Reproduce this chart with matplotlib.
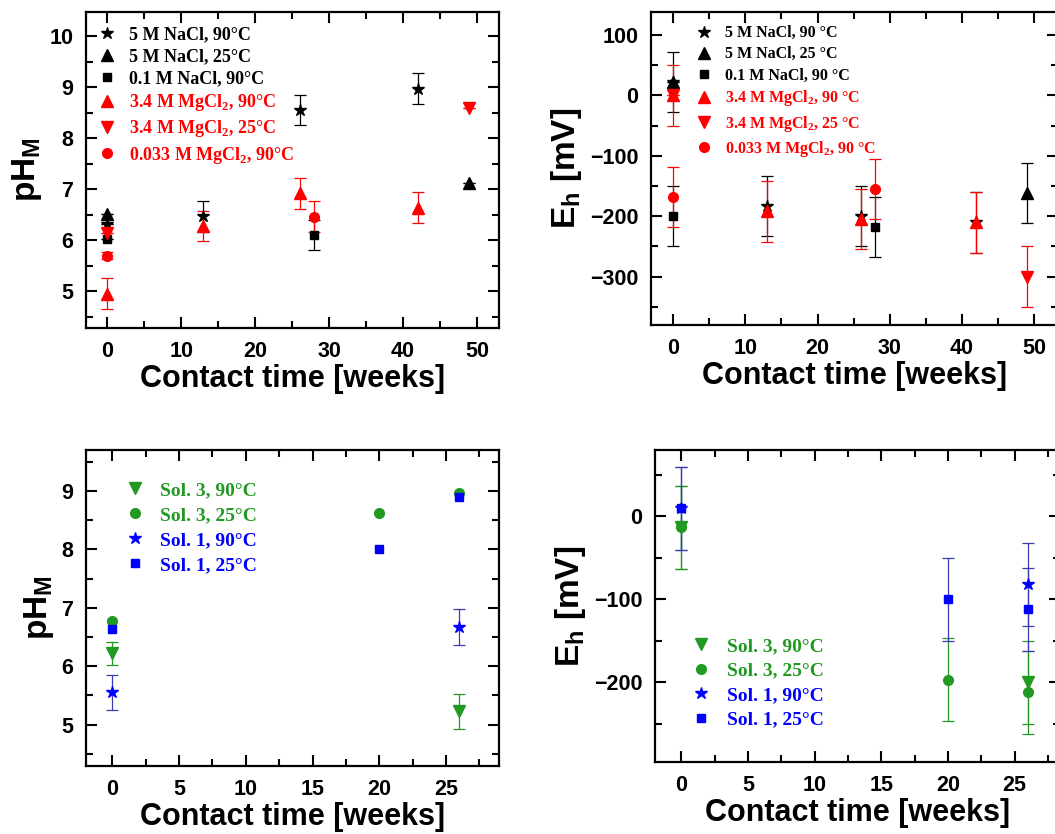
import numpy as np
import matplotlib.pyplot as plt
from matplotlib.lines import Line2D
from matplotlib.ticker import MultipleLocator

plt.rcParams['font.family'] = ['Liberation Sans', 'DejaVu Sans']
plt.rcParams['font.weight'] = 'bold'
plt.rcParams['axes.labelweight'] = 'bold'
plt.rcParams['mathtext.fontset'] = 'custom'
plt.rcParams['mathtext.rm'] = 'Liberation Serif:bold'
plt.rcParams['mathtext.sf'] = 'Liberation Sans:bold'
plt.rcParams['mathtext.bf'] = 'Liberation Serif:bold'

RED = '#ff0000'
GREEN = '#229a22'
BLUE = '#0000ff'
BLUE_ERR = '#3a3ab4'

# ---- top row: NaCl / MgCl2 solutions ----
labels_top_ph = ['5 M NaCl, 90°C', '5 M NaCl, 25°C', '0.1 M NaCl, 90°C',
                 r'3.4 M MgCl$_\mathrm{2}$, 90°C', r'3.4 M MgCl$_\mathrm{2}$, 25°C',
                 r'0.033 M MgCl$_\mathrm{2}$, 90°C']
labels_top_eh = ['5 M NaCl, 90 °C', '5 M NaCl, 25 °C', '0.1 M NaCl, 90 °C',
                 r'3.4 M MgCl$_\mathrm{2}$, 90 °C', r'3.4 M MgCl$_\mathrm{2}$, 25 °C',
                 r'0.033 M MgCl$_\mathrm{2}$, 90 °C']

nacl5_90_t = [0, 13, 26, 42]
nacl5_90_ph = [6.32, 6.47, 8.55, 8.97]
nacl5_90_ph_err = [0, 0.3, 0.3, 0.3]
nacl5_25_t = [0, 49]
nacl5_25_ph = [6.52, 7.12]
nacl5_25_ph_err = [0, 0]
nacl01_90_t = [0, 28]
nacl01_90_ph = [6.02, 6.1]
nacl01_90_ph_err = [0, 0.3]
mg34_90_t = [0, 13, 26, 42]
mg34_90_ph = [4.95, 6.28, 6.92, 6.64]
mg34_90_ph_err = [0.3, 0.3, 0.3, 0.3]
mg34_25_t = [0, 49]
mg34_25_ph = [6.15, 8.58]
mg34_25_ph_err = [0, 0]
mg0033_90_t = [0, 28]
mg0033_90_ph = [5.7, 6.46]
mg0033_90_ph_err = [0.07, 0.3]

nacl5_90_eh = [22, -183, -200, -210]
nacl5_90_eh_err = [50, 50, 50, 50]
nacl5_25_eh = [22, -162]
nacl5_25_eh_err = [0, 50]
nacl01_90_eh = [-200, -218]
nacl01_90_eh_err = [50, 50]
mg34_90_eh = [0, -192, -205, -210]
mg34_90_eh_err = [50, 50, 50, 50]
mg34_25_eh = [0, -300]
mg34_25_eh_err = [0, 50]
mg0033_90_eh = [-168, -155]
mg0033_90_eh_err = [50, 50]

# ---- bottom row: Sol. 1 / Sol. 3 ----
labels_bot = ['Sol. 3, 90°C', 'Sol. 3, 25°C', 'Sol. 1, 90°C', 'Sol. 1, 25°C']
sol3_90_t = [0, 26]
sol3_90_ph = [6.22, 5.23]
sol3_90_ph_err = [0.2, 0.3]
sol3_25_t = [0, 20, 26]
sol3_25_ph = [6.78, 8.63, 8.97]
sol1_90_t = [0, 26]
sol1_90_ph = [5.55, 6.67]
sol1_90_ph_err = [0.3, 0.3]
sol1_25_t = [0, 20, 26]
sol1_25_ph = [6.63, 8.01, 8.9]

sol3_90_eh = [-13, -200]
sol3_25_eh = [-13, -197, -212]
sol1_90_eh = [10, -82]
sol1_25_eh = [10, -100, -112]
eh_err_bot = 50

fig = plt.figure(figsize=(10.55, 8.34), dpi=100)
ax1 = fig.add_axes([0.0815, 0.6067, 0.3915, 0.3789])
ax2 = fig.add_axes([0.617, 0.6103, 0.3858, 0.3753])
ax3 = fig.add_axes([0.0815, 0.0815, 0.3915, 0.3789])
ax4 = fig.add_axes([0.6209, 0.0863, 0.3839, 0.3741])


def series(ax, t, y, err, marker, color, ecolor, ms):
    ax.errorbar(t, y, yerr=err, fmt=marker, color=color, ecolor=ecolor,
                ms=ms, elinewidth=0.9, capsize=4, capthick=0.9, zorder=3)


def style(ax, xmaj, xmin, ymaj, ymin):
    ax.xaxis.set_major_locator(MultipleLocator(xmaj))
    ax.xaxis.set_minor_locator(MultipleLocator(xmin))
    ax.yaxis.set_major_locator(MultipleLocator(ymaj))
    ax.yaxis.set_minor_locator(MultipleLocator(ymin))
    ax.tick_params(which='both', direction='in', top=True, right=True, width=1.5)
    ax.tick_params(which='major', length=8, labelsize=15.5, pad=9)
    ax.tick_params(which='minor', length=5)
    for s in ax.spines.values():
        s.set_linewidth(1.6)
    ax.set_xlabel('Contact time [weeks]', fontsize=22, fontweight='bold', labelpad=2)


def legend(ax, markers, colors, labels, anchor, fs, spacing, pad):
    handles = [Line2D([], [], ls='none', marker=m, color=c, ms=ms)
               for m, c, ms in markers]
    leg = ax.legend(handles, labels, loc='upper left', bbox_to_anchor=anchor,
                    frameon=False, borderaxespad=0, borderpad=0, handlelength=1,
                    handletextpad=pad, labelspacing=spacing,
                    prop={'family': 'Liberation Serif', 'weight': 'bold', 'size': fs})
    for txt, c in zip(leg.get_texts(), colors):
        txt.set_color(c)


top_markers = [('*', 'k', 9), ('^', 'k', 8), ('s', 'k', 6),
               ('^', RED, 8), ('v', RED, 8), ('o', RED, 7)]
top_colors = ['k', 'k', 'k', RED, RED, RED]

# panel 1: pH, top
series(ax1, nacl5_90_t, nacl5_90_ph, nacl5_90_ph_err, '*', 'k', 'k', 9)
series(ax1, nacl5_25_t, nacl5_25_ph, nacl5_25_ph_err, '^', 'k', 'k', 8)
series(ax1, nacl01_90_t, nacl01_90_ph, nacl01_90_ph_err, 's', 'k', 'k', 6)
series(ax1, mg34_90_t, mg34_90_ph, mg34_90_ph_err, '^', RED, RED, 8)
series(ax1, mg34_25_t, mg34_25_ph, mg34_25_ph_err, 'v', RED, RED, 8)
series(ax1, mg0033_90_t, mg0033_90_ph, mg0033_90_ph_err, 'o', RED, RED, 7)
ax1.set_xlim(-2.9, 53)
ax1.set_ylim(4.28, 10.47)
style(ax1, 10, 5, 1, 0.5)
ax1.set_ylabel(r'pH$_\mathsf{M}$', fontsize=24, fontweight='bold', labelpad=4)
legend(ax1, top_markers, top_colors, labels_top_ph, (0.028, 0.955), 13, 0.28, 0.75)

# panel 2: Eh, top
series(ax2, nacl5_90_t, nacl5_90_eh, nacl5_90_eh_err, '*', 'k', 'k', 9)
series(ax2, nacl5_25_t, nacl5_25_eh, nacl5_25_eh_err, '^', 'k', 'k', 8)
series(ax2, nacl01_90_t, nacl01_90_eh, nacl01_90_eh_err, 's', 'k', 'k', 6)
series(ax2, mg34_90_t, mg34_90_eh, mg34_90_eh_err, '^', RED, RED, 8)
series(ax2, mg34_25_t, mg34_25_eh, mg34_25_eh_err, 'v', RED, RED, 8)
series(ax2, mg0033_90_t, mg0033_90_eh, mg0033_90_eh_err, 'o', RED, RED, 7)
ax2.set_xlim(-3.07, 53.3)
ax2.set_ylim(-380, 138)
style(ax2, 10, 5, 100, 50)
ax2.set_ylabel(r'E$_\mathsf{h}$ [mV]', fontsize=24, fontweight='bold', labelpad=4)
legend(ax2, top_markers, top_colors, labels_top_eh, (0.11, 0.958), 11.5, 0.32, 0.85)

bot_markers = [('v', GREEN, 8), ('o', GREEN, 7), ('*', BLUE, 9), ('s', BLUE, 6)]
bot_colors = [GREEN, GREEN, BLUE, BLUE]

# panel 3: pH, bottom
series(ax3, sol3_90_t, sol3_90_ph, sol3_90_ph_err, 'v', GREEN, GREEN, 8)
series(ax3, sol3_25_t, sol3_25_ph, None, 'o', GREEN, GREEN, 7)
series(ax3, sol1_90_t, sol1_90_ph, sol1_90_ph_err, '*', BLUE, BLUE_ERR, 9)
series(ax3, sol1_25_t, sol1_25_ph, None, 's', BLUE, BLUE, 6)
ax3.set_xlim(-1.97, 28.97)
ax3.set_ylim(4.29, 9.7)
style(ax3, 5, 2.5, 1, 0.5)
ax3.set_ylabel(r'pH$_\mathsf{M}$', fontsize=24, fontweight='bold', labelpad=4)
legend(ax3, bot_markers, bot_colors, labels_bot, (0.095, 0.9), 14, 0.38, 0.8)

# panel 4: Eh, bottom
series(ax4, sol3_90_t, sol3_90_eh, eh_err_bot, 'v', GREEN, GREEN, 8)
series(ax4, sol3_25_t, sol3_25_eh, eh_err_bot, 'o', GREEN, GREEN, 7)
series(ax4, sol1_90_t, sol1_90_eh, eh_err_bot, '*', BLUE, BLUE_ERR, 9)
series(ax4, sol1_25_t, sol1_25_eh, eh_err_bot, 's', BLUE, BLUE_ERR, 6)
ax4.set_xlim(-1.98, 28.4)
ax4.set_ylim(-296, 80)
style(ax4, 5, 2.5, 100, 50)
ax4.set_ylabel(r'E$_\mathsf{h}$ [mV]', fontsize=24, fontweight='bold', labelpad=4)
legend(ax4, bot_markers, bot_colors, labels_bot, (0.09, 0.40), 14, 0.36, 0.8)

fig.savefig('out.png', dpi=100)
